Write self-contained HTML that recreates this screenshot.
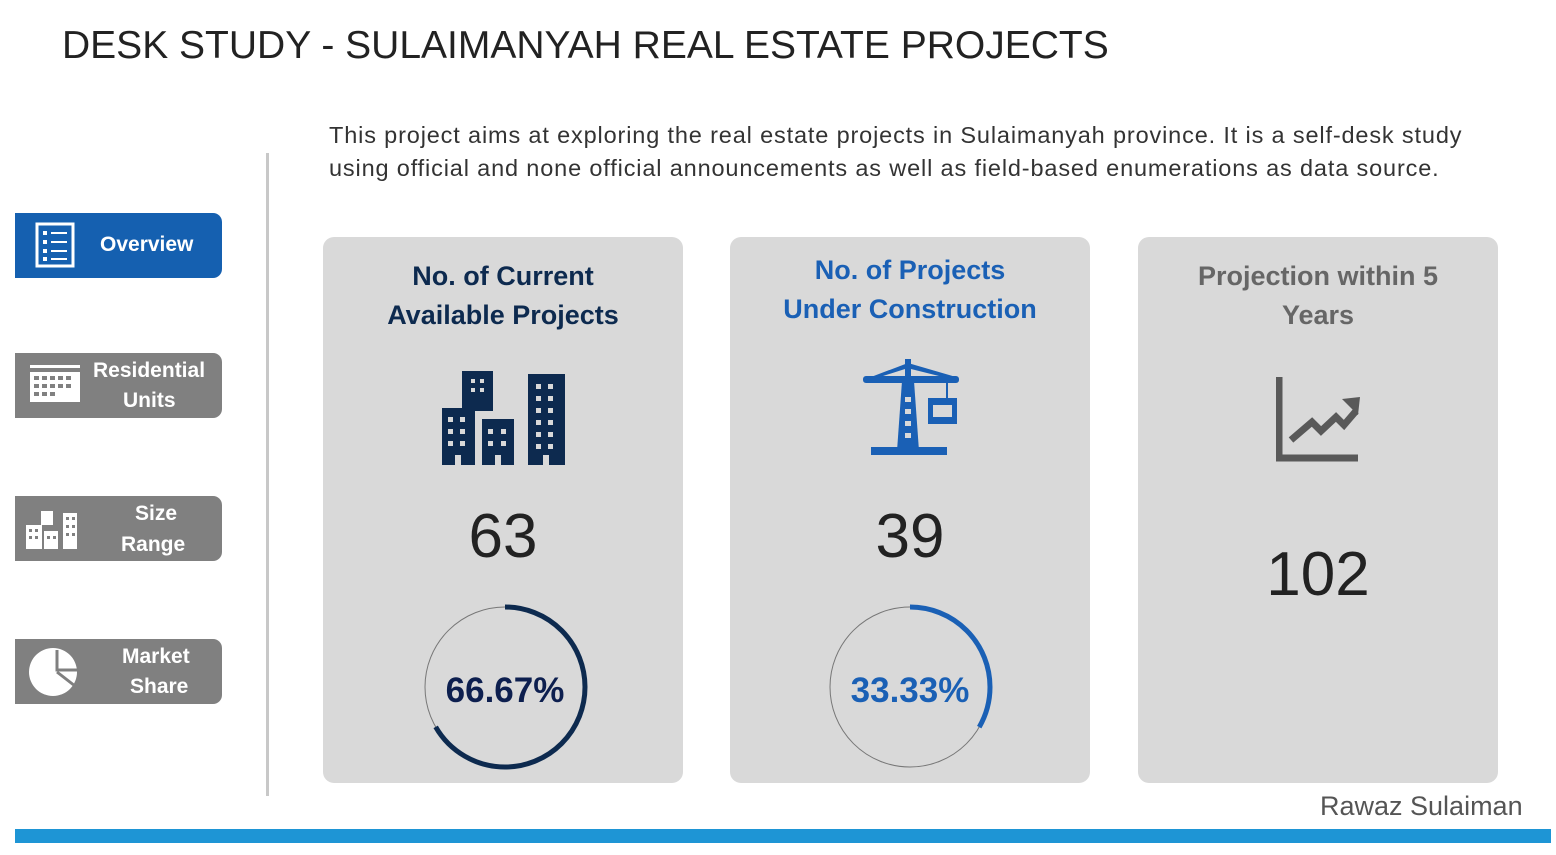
<!DOCTYPE html>
<html><head><meta charset="utf-8"><style>
body{margin:0;width:1556px;height:855px;background:#fff;position:relative;overflow:hidden;font-family:"Liberation Sans",sans-serif}
.a{position:absolute}
.title{left:62px;top:24px;font-size:39px;color:#222;white-space:nowrap}
.intro{left:329px;top:119px;font-size:23.5px;line-height:33px;color:#333;width:1220px;letter-spacing:0.85px;white-space:nowrap}
.btn{position:absolute;left:15px;width:207px;height:65px;border-radius:0 9px 9px 0;background:#808080;color:#fff;font-weight:bold;font-size:21px;text-align:center;line-height:30px}
.card{position:absolute;top:237px;width:360px;height:546px;background:#d9d9d9;border-radius:11px}
.ct{position:absolute;left:0;width:100%;text-align:center;font-weight:bold;font-size:27px;line-height:39px}
.num{position:absolute;left:0;width:100%;text-align:center;font-size:62px;color:#222}
</style></head><body>
<div class="a title">DESK STUDY - SULAIMANYAH REAL ESTATE PROJECTS</div>
<div class="a intro">This project aims at exploring the real estate projects in Sulaimanyah province. It is a self-desk study<br>using official and none official announcements as well as field-based enumerations as data source.</div>
<div class="a" style="left:266px;top:153px;width:3px;height:643px;background:#c8c8c8"></div>

<div class="btn" style="top:213px;background:#1560b0;">
<svg class="a" style="left:20px;top:9px" width="40" height="46"><rect x="2" y="2" width="36" height="42" fill="none" stroke="#fff" stroke-width="3"/><g fill="#fff"><rect x="8" y="9" width="4" height="4"/><rect x="8" y="18" width="4" height="4"/><rect x="8" y="27" width="4" height="4"/><rect x="8" y="35" width="4" height="4"/><rect x="16" y="10" width="16" height="2"/><rect x="16" y="19" width="16" height="2"/><rect x="16" y="28" width="16" height="2"/><rect x="16" y="36" width="16" height="2"/></g></svg>
<span class="a" style="left:85px;top:17px">Overview</span></div>

<div class="btn" style="top:353px">
<svg class="a" style="left:15px;top:10px" width="50" height="40"><rect x="0" y="2" width="50" height="3" fill="#fff"/><rect x="0" y="9" width="50" height="30" fill="#fff"/><g fill="#808080"><rect x="4" y="13" width="5" height="4"/><rect x="12" y="13" width="5" height="4"/><rect x="20" y="13" width="5" height="4"/><rect x="28" y="13" width="5" height="4"/><rect x="36" y="13" width="5" height="4"/><rect x="4" y="21" width="5" height="4"/><rect x="12" y="21" width="5" height="4"/><rect x="20" y="21" width="5" height="4"/><rect x="28" y="21" width="5" height="4"/><rect x="36" y="21" width="5" height="4"/><rect x="4" y="29" width="5" height="4"/><rect x="12" y="29" width="5" height="4"/><rect x="20" y="29" width="5" height="4"/></g></svg>
<span class="a" style="left:78px;top:3px">Residential</span><span class="a" style="left:108px;top:33px">Units</span></div>

<div class="btn" style="top:496px">
<svg class="a" style="left:11px;top:15px" width="58" height="38" fill="#fff"><rect x="15" y="0" width="12" height="14"/><rect x="0" y="14" width="16" height="24"/><rect x="18" y="20" width="14" height="18"/><rect x="37" y="2" width="14" height="36"/><g fill="#808080"><rect x="3" y="18" width="3" height="3"/><rect x="9" y="18" width="3" height="3"/><rect x="3" y="25" width="3" height="3"/><rect x="9" y="25" width="3" height="3"/><rect x="21" y="25" width="3" height="3"/><rect x="27" y="25" width="3" height="3"/><rect x="40" y="6" width="3" height="3"/><rect x="46" y="6" width="3" height="3"/><rect x="40" y="14" width="3" height="3"/><rect x="46" y="14" width="3" height="3"/><rect x="40" y="22" width="3" height="3"/><rect x="46" y="22" width="3" height="3"/></g></svg>
<span class="a" style="left:120px;top:3px">Size</span><span class="a" style="left:106px;top:34px">Range</span></div>

<div class="btn" style="top:639px">
<svg class="a" style="left:12px;top:9px" width="56" height="48"><circle cx="26" cy="24" r="24" fill="#fff"/><path d="M30 2 L30 22 L54 22" stroke="#808080" stroke-width="3" fill="none"/><path d="M30 24 L48 38" stroke="#808080" stroke-width="3"/></svg>
<span class="a" style="left:107px;top:3px">Market</span><span class="a" style="left:115px;top:33px">Share</span></div>

<div class="card" style="left:323px">
<div class="ct" style="top:20px;color:#0d2a4f">No. of Current<br>Available Projects</div>
<svg class="a" style="left:119px;top:134px" width="125" height="94" fill="#0d2a4f"><rect x="20" y="0" width="31" height="40"/><rect x="0" y="37" width="33" height="57"/><rect x="40" y="48" width="32" height="46"/><rect x="86" y="3" width="37" height="91"/>
<g fill="#d9d9d9"><rect x="29" y="8" width="4" height="4"/><rect x="38" y="8" width="4" height="4"/><rect x="29" y="17" width="4" height="4"/><rect x="38" y="17" width="4" height="4"/>
<rect x="6" y="46" width="5" height="5"/><rect x="18" y="46" width="5" height="5"/><rect x="6" y="58" width="5" height="5"/><rect x="18" y="58" width="5" height="5"/><rect x="6" y="70" width="5" height="5"/><rect x="18" y="70" width="5" height="5"/><rect x="13" y="84" width="6" height="10"/>
<rect x="46" y="58" width="5" height="5"/><rect x="59" y="58" width="5" height="5"/><rect x="46" y="70" width="5" height="5"/><rect x="59" y="70" width="5" height="5"/><rect x="53" y="84" width="6" height="10"/>
<rect x="94" y="13" width="5" height="5"/><rect x="106" y="13" width="5" height="5"/><rect x="94" y="25" width="5" height="5"/><rect x="106" y="25" width="5" height="5"/><rect x="94" y="37" width="5" height="5"/><rect x="106" y="37" width="5" height="5"/><rect x="94" y="49" width="5" height="5"/><rect x="106" y="49" width="5" height="5"/><rect x="94" y="61" width="5" height="5"/><rect x="106" y="61" width="5" height="5"/><rect x="94" y="73" width="5" height="5"/><rect x="106" y="73" width="5" height="5"/><rect x="101" y="84" width="6" height="10"/></g></svg>
<div class="num" style="top:264px">63</div>
<svg class="a" style="left:97px;top:365px" width="170" height="170"><circle cx="85" cy="85" r="80" fill="none" stroke="#777" stroke-width="1"/><circle cx="85" cy="85" r="80" fill="none" stroke="#0d2a4f" stroke-width="5" stroke-dasharray="335.1 1000" transform="rotate(-90 85 85)"/></svg>
<div class="a" style="left:0;width:364px;text-align:center;top:434px;font-size:35px;font-weight:bold;color:#0d1f4f">66.67%</div>
</div>

<div class="card" style="left:730px">
<div class="ct" style="top:14px;color:#1a60b5">No. of Projects<br>Under Construction</div>
<svg class="a" style="left:131px;top:122px" width="100" height="100" fill="#1a60b5"><rect x="2" y="17" width="96" height="7" rx="3"/><rect x="44" y="0" width="6" height="18"/><polygon points="10,18 47,4 95,18"/><polygon points="41,22 53,22 58,92 36,92"/><rect x="10" y="88" width="76" height="8"/><rect x="85" y="22" width="2" height="18"/><rect x="67" y="39" width="29" height="26"/><g fill="#d9d9d9"><rect x="72" y="46" width="19" height="12"/><rect x="44" y="38" width="6" height="5"/><rect x="44" y="50" width="6" height="5"/><rect x="44" y="62" width="6" height="5"/><rect x="44" y="74" width="6" height="5"/><polygon points="22,17 44,10 44,17"/><polygon points="50,10 78,17 50,17"/></g></svg>
<div class="num" style="top:264px">39</div>
<svg class="a" style="left:95px;top:365px" width="170" height="170"><circle cx="85" cy="85" r="80" fill="none" stroke="#777" stroke-width="1"/><circle cx="85" cy="85" r="80" fill="none" stroke="#1a60b5" stroke-width="5" stroke-dasharray="167.6 1000" transform="rotate(-90 85 85)"/></svg>
<div class="a" style="left:0;width:360px;text-align:center;top:434px;font-size:35px;font-weight:bold;color:#1a60b5">33.33%</div>
</div>

<div class="card" style="left:1138px">
<div class="ct" style="top:20px;color:#666">Projection within 5<br>Years</div>
<svg class="a" style="left:138px;top:138px" width="86" height="88"><path d="M3 2 L3 83 L82 83" stroke="#595959" stroke-width="7" fill="none"/><path d="M15 65 L36 47 L45 56 L60 42 L68 50 L80 36" stroke="#595959" stroke-width="7" fill="none"/><polygon points="66,24 84,22 82,40" fill="#595959"/></svg>
<div class="num" style="top:302px">102</div>
</div>

<div class="a" style="left:1320px;top:791px;font-size:27px;color:#555">Rawaz Sulaiman</div>
<div class="a" style="left:15px;top:829px;width:1536px;height:14px;background:#1e95d5"></div>
</body></html>
